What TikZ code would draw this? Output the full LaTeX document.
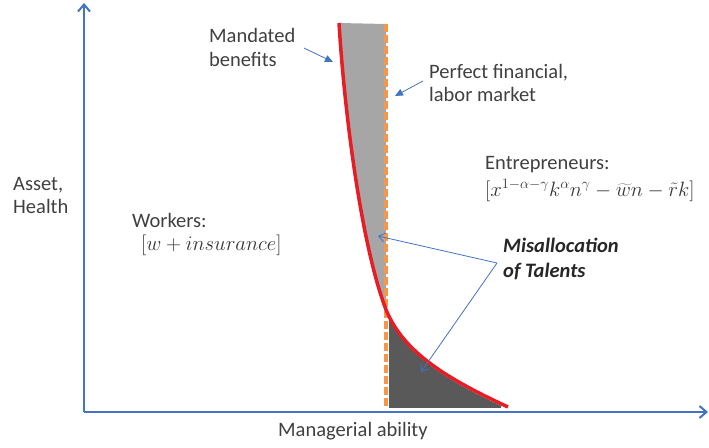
\documentclass[tikz,border=0pt]{standalone}
\usepackage{fontspec}
\setmainfont{Carlito}
\usetikzlibrary{arrows.meta}

\definecolor{axisblue}{RGB}{68,114,196}
\definecolor{labelgray}{RGB}{64,64,64}
\definecolor{curvered}{RGB}{232,28,36}
\definecolor{dashorange}{RGB}{247,150,70}
\definecolor{lightfill}{RGB}{166,166,166}
\definecolor{darkfill}{RGB}{89,89,89}

\tikzset{
  axisline/.style={draw=axisblue, line width=2.5pt, -{Straight Barb[length=7pt,width=12pt,line width=2pt]}},
  label/.style={inner sep=0pt, text=labelgray, anchor=base west, font=\fontsize{20.5}{24}\selectfont},
  payoff/.style={inner sep=0pt, text=labelgray!85!black, anchor=base west, font=\fontsize{22}{24}\selectfont},
  strong/.style={inner sep=0pt, text=black!85, anchor=base west, font=\fontsize{20.5}{24}\selectfont\bfseries\itshape},
  pointer/.style={draw=axisblue, line width=0.8pt, -{Triangle[length=8pt,width=7pt]}},
  openpointer/.style={draw=axisblue, line width=0.8pt, -{Straight Barb[length=6pt,width=9pt,line width=0.8pt]}},
  frontier/.style={draw=curvered, line width=3.5pt},
  perfect/.style={draw=dashorange, line width=3.5pt, dash pattern=on 8pt off 3pt}
}

\begin{document}
\begin{tikzpicture}[x=1pt,y=-1pt]
  \useasboundingbox (0,0) rectangle (709,447);

  % shaded areas between the frontier and the undistorted threshold
  \fill[lightfill] (386,24) -- (386,307) -- (385,307)
    .. controls (362,245) and (345,120) .. (339,23) -- cycle;
  \begin{scope}
    \clip (389,300) rectangle (501,407);
    \fill[darkfill] (385,309) .. controls (402,355) and (450,382) .. (508,409)
      -- (385,409) -- cycle;
  \end{scope}

  % axes
  \coordinate (origin) at (84,412);
  \coordinate (ytip) at (84,3);
  \coordinate (xtip) at (708,412);
  \draw[axisline] (origin) -- (ytip);
  \draw[axisline] (origin) -- (xtip);

  % perfect-market threshold
  \coordinate (ptop) at (386,24);
  \coordinate (pbot) at (386,409);
  \draw[perfect] (ptop) -- (pbot);

  % occupational frontier
  \coordinate (ftop) at (339,23);
  \coordinate (fmid) at (385,307);
  \coordinate (fend) at (508,407);
  \draw[frontier] (ftop) .. controls (345,120) and (362,245) .. (fmid)
    .. controls (402,353) and (450,380) .. (fend);

  % labels
  \node[label] (asset) at (13,190) {Asset,};
  \node[label] (health) at (13,213) {Health};
  \node[label] (xlab) at (278,436) {Managerial ability};
  \node[label] (mand1) at (209,42) {Mandated};
  \node[label] (mand2) at (209,66) {benefits};
  \node[label] (perf1) at (429,78) {Perfect financial,};
  \node[label] (perf2) at (429,101) {labor market};
  \node[label] (entr) at (485,169) {Entrepreneurs:};
  \node[payoff] (entrpay) at (485,196)
    {$[x^{1-\alpha-\gamma}k^{\alpha}n^{\gamma}-\widetilde{w}n-\tilde{r}k]$};
  \node[label] (work) at (132,227) {Workers:};
  \node[payoff] (workpay) at (141,250) {$[w+insurance]$};
  \node[strong] (mis1) at (503,252) {Misallocation};
  \node[strong] (mis2) at (503,277) {of Talents};

  % pointers
  \coordinate (mandfrom) at (304,48);
  \coordinate (mandto) at (333,62);
  \draw[pointer] (mandfrom) -- (mandto);
  \coordinate (perffrom) at (423,81);
  \coordinate (perfto) at (395,96);
  \draw[pointer] (perffrom) -- (perfto);
  \coordinate (misfrom) at (497,263);
  \coordinate (misup) at (378,236);
  \coordinate (misdown) at (421,372);
  \draw[openpointer] (misfrom) -- (misup);
  \draw[openpointer] (misfrom) -- (misdown);
\end{tikzpicture}
\end{document}
